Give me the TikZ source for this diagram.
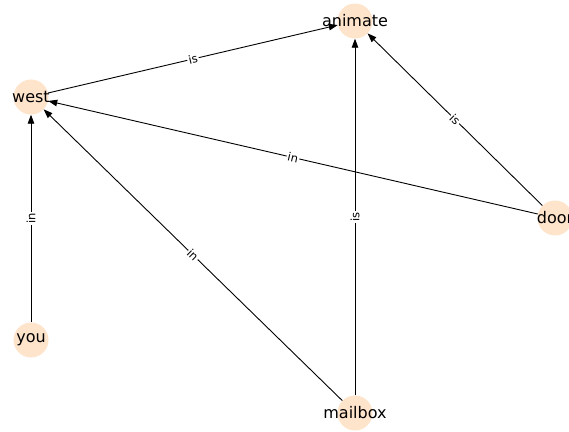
\documentclass[tikz,border=0pt]{standalone}
\usepackage{fontspec}
\setmainfont{DejaVu Sans}
\usetikzlibrary{arrows.meta}
\definecolor{nodefill}{HTML}{FFE4CC}
\tikzset{
  vert/.style={circle, fill=nodefill, minimum size=35pt, inner sep=0pt},
  vlabel/.style={font=\fontsize{16}{18}\selectfont, text=black, inner sep=0pt},
  edge/.style={-{Triangle[length=9pt,width=6.5pt]}, line width=0.9pt, black},
  elabel/.style={font=\fontsize{11.5}{13}\selectfont, fill=white, inner sep=1.2pt, sloped, pos=0.5}
}
\begin{document}
\begin{tikzpicture}[x=1pt,y=-1pt]
\useasboundingbox[fill=white] (0,0) rectangle (569,431);
\node[vert] (animate) at (355,21) {};
\node[vert] (west) at (31,97) {};
\node[vert] (door) at (555,218) {};
\node[vert] (you) at (31,340) {};
\node[vert] (mailbox) at (355,413) {};

\draw[edge] (west) -- node[elabel] {is} (animate);
\draw[edge] (door) -- node[elabel] {is} (animate);
\draw[edge] (mailbox) -- node[elabel] {is} (animate);
\draw[edge] (door) -- node[elabel] {in} (west);
\draw[edge] (you) -- node[elabel] {in} (west);
\draw[edge] (mailbox) -- node[elabel] {in} (west);

\node[vlabel] (tanimate) at (animate) {animate};
\node[vlabel] (twest) at (west) {west};
\node[vlabel] (tdoor) at (door) {door};
\node[vlabel] (tyou) at (you) {you};
\node[vlabel] (tmailbox) at (mailbox) {mailbox};
\end{tikzpicture}
\end{document}
